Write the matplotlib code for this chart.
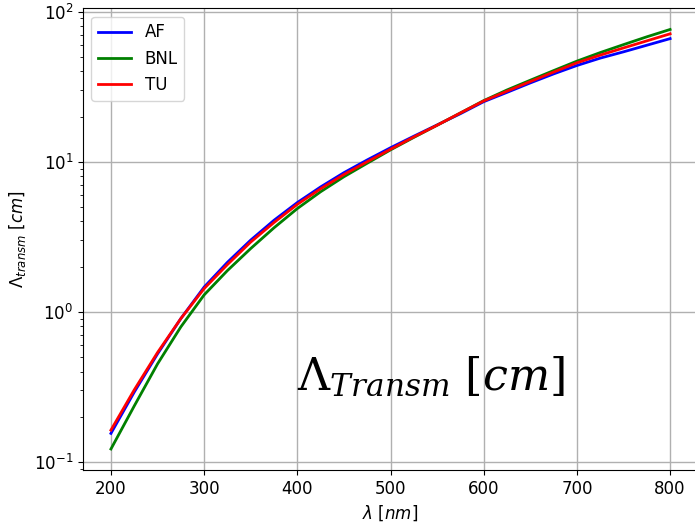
import numpy as np
import matplotlib.pyplot as plt

# wavelength [nm] and transmission length [cm]
wl = [200, 225, 250, 275, 300, 325, 350, 375, 400, 425, 450, 475, 500,
      525, 550, 575, 600, 625, 650, 675, 700, 725, 750, 775, 800]
af = [0.155, 0.292, 0.525, 0.902, 1.462, 2.138, 3.006, 4.074, 5.346, 6.792, 8.453, 10.28, 12.39,
      14.79, 17.58, 20.89, 25.12, 28.97, 33.50, 38.46, 43.75, 48.98, 53.95, 59.70, 66.07]
bnl = [0.122, 0.236, 0.450, 0.794, 1.297, 1.884, 2.642, 3.631, 4.875, 6.310, 7.943, 9.772, 11.99,
       14.52, 17.50, 21.13, 25.53, 30.06, 34.91, 40.46, 46.77, 53.33, 60.26, 67.92, 76.03]
tu = [0.163, 0.302, 0.536, 0.902, 1.429, 2.065, 2.917, 3.936, 5.200, 6.607, 8.222, 10.0, 12.11,
      14.62, 17.50, 21.13, 25.41, 29.51, 34.20, 39.54, 45.60, 51.29, 57.28, 63.83, 71.12]

fig = plt.figure(figsize=(6.95, 5.24), dpi=100)
ax = fig.add_axes([0.1194, 0.1031, 0.885, 0.8807])
ax.plot(wl, af, c="b", lw=2, label="AF")
ax.plot(wl, bnl, c="g", lw=2, label="BNL")
ax.plot(wl, tu, c="r", lw=2, label="TU")
ax.set_yscale("log")
ax.set_xlim(170, 830)
ax.grid(True, which="major", color="#b0b0b0", lw=1)
ax.set_xlabel(r"$\lambda\ [nm]$", fontsize=12)
ax.set_ylabel(r"$\Lambda_{transm}\ [cm]$", fontsize=12)
ax.tick_params(labelsize=12)
ax.legend(loc="upper left", fontsize=12)
ax.text(400, 0.3, r"$\Lambda_{Transm}\ [cm]$", fontsize=32, math_fontfamily="dejavuserif")
fig.savefig("out.png")
